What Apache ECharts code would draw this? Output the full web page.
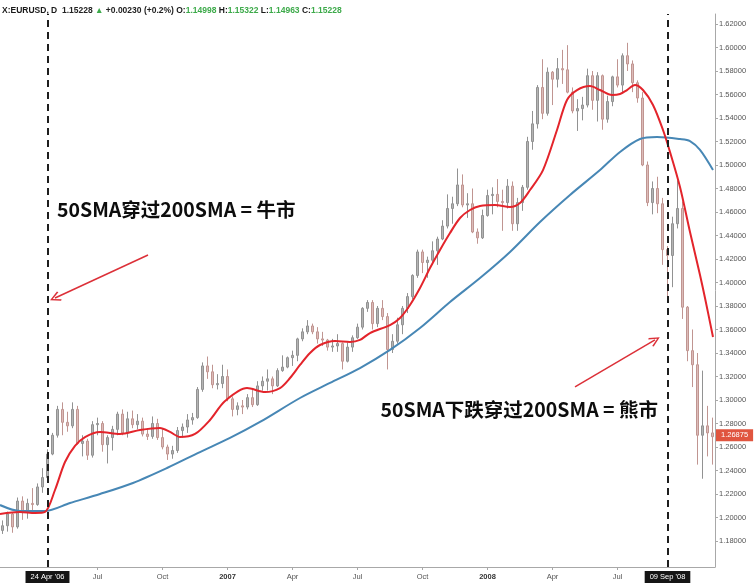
<!DOCTYPE html>
<html><head><meta charset="utf-8">
<script src="https://cdn.jsdelivr.net/npm/echarts@6/dist/echarts.min.js"></script>
<style>html,body{margin:0;padding:0;background:#fff}#c{width:754px;height:584px}</style>
</head><body><div id="c"></div><script>
// ---- data (weekly bars, EUR/USD) ----
const firstWeek = '2006-02-13';
const nWeeks = 144;
const opens = [1.1925,1.1890,1.1930,1.2030,1.1920,1.2140,1.2050,1.2120,1.2110,1.2260,
1.2340,1.2540,1.2700,1.2920,1.2810,1.2780,1.2920,1.2630,1.2650,1.2530,
1.2790,1.2800,1.2620,1.2680,1.2750,1.2880,1.2720,1.2840,1.2790,1.2820,
1.2710,1.2690,1.2800,1.2680,1.2600,1.2540,1.2570,1.2740,1.2770,1.2830,
1.2850,1.3090,1.3290,1.3240,1.3130,1.3140,1.3200,1.3010,1.2920,1.2950,
1.2940,1.3020,1.2960,1.3120,1.3160,1.3180,1.3120,1.3250,1.3280,1.3360,
1.3380,1.3520,1.3580,1.3630,1.3580,1.3520,1.3510,1.3450,1.3460,1.3480,
1.3330,1.3450,1.3530,1.3620,1.3780,1.3830,1.3650,1.3780,1.3710,1.3430,
1.3500,1.3640,1.3780,1.3880,1.4060,1.4260,1.4170,1.4190,1.4270,1.4370,
1.4480,1.4630,1.4670,1.4830,1.4660,1.4670,1.4430,1.4380,1.4570,1.4740,
1.4750,1.4690,1.4680,1.4820,1.4500,1.4680,1.4810,1.5200,1.5350,1.5660,
1.5440,1.5790,1.5730,1.5820,1.5810,1.5620,1.5460,1.5480,1.5510,1.5760,
1.5550,1.5760,1.5390,1.5540,1.5750,1.5680,1.5930,1.5860,1.5700,1.5570,
1.5000,1.4680,1.4800,1.4670,1.4280,1.4230,1.4500,1.4630,1.3790,1.3420,
1.3300,1.2700,1.2780,1.2720];
const highs = [1.1960,1.1975,1.2050,1.2040,1.2170,1.2180,1.2160,1.2250,1.2290,1.2420,
1.2580,1.2720,1.2950,1.2980,1.2900,1.2980,1.2950,1.2700,1.2670,1.2820,
1.2850,1.2820,1.2700,1.2780,1.2900,1.2920,1.2900,1.2910,1.2880,1.2850,
1.2760,1.2860,1.2840,1.2760,1.2620,1.2610,1.2770,1.2800,1.2880,1.2890,
1.3110,1.3320,1.3370,1.3300,1.3220,1.3300,1.3260,1.3030,1.2980,1.3000,
1.3050,1.3090,1.3160,1.3200,1.3260,1.3200,1.3270,1.3380,1.3370,1.3420,
1.3530,1.3610,1.3680,1.3650,1.3620,1.3580,1.3520,1.3520,1.3560,1.3490,
1.3490,1.3550,1.3650,1.3790,1.3850,1.3850,1.3800,1.3850,1.3740,1.3560,
1.3700,1.3800,1.3910,1.4070,1.4280,1.4280,1.4220,1.4350,1.4390,1.4530,
1.4750,1.4730,1.4970,1.4920,1.4760,1.4800,1.4460,1.4620,1.4790,1.4810,
1.4880,1.4790,1.4880,1.4860,1.4720,1.4830,1.5240,1.5460,1.5680,1.5900,
1.5830,1.5800,1.5910,1.5980,1.6020,1.5660,1.5560,1.5580,1.5820,1.5800,
1.5790,1.5770,1.5590,1.5760,1.5900,1.5950,1.6040,1.5890,1.5720,1.5620,
1.5030,1.4860,1.4900,1.4720,1.4310,1.4560,1.4870,1.4690,1.3800,1.3600,
1.3400,1.3250,1.2950,1.2850];
const lows = [1.1850,1.1860,1.1880,1.1870,1.1905,1.1980,1.1990,1.2030,1.2100,1.2210,
1.2330,1.2530,1.2680,1.2700,1.2730,1.2760,1.2620,1.2520,1.2490,1.2510,
1.2700,1.2560,1.2460,1.2570,1.2700,1.2700,1.2680,1.2760,1.2750,1.2690,
1.2660,1.2670,1.2660,1.2580,1.2490,1.2500,1.2550,1.2680,1.2720,1.2790,
1.2840,1.3070,1.3180,1.3100,1.3090,1.3100,1.2990,1.2860,1.2870,1.2880,
1.2920,1.2940,1.2950,1.3080,1.3080,1.3050,1.3110,1.3240,1.3270,1.3290,
1.3330,1.3500,1.3560,1.3560,1.3480,1.3460,1.3420,1.3410,1.3410,1.3260,
1.3320,1.3410,1.3520,1.3600,1.3750,1.3600,1.3620,1.3680,1.3260,1.3400,
1.3480,1.3560,1.3740,1.3860,1.4040,1.4080,1.4040,1.4150,1.4150,1.4360,
1.4460,1.4500,1.4650,1.4640,1.4550,1.4420,1.4330,1.4370,1.4560,1.4580,
1.4640,1.4440,1.4630,1.4440,1.4440,1.4610,1.4790,1.5130,1.5310,1.5390,
1.5420,1.5510,1.5660,1.5690,1.5610,1.5440,1.5290,1.5380,1.5490,1.5470,
1.5370,1.5300,1.5360,1.5500,1.5660,1.5620,1.5800,1.5620,1.5530,1.4990,
1.4650,1.4580,1.4590,1.4150,1.3880,1.3960,1.4460,1.3690,1.3330,1.3110,
1.2450,1.2330,1.2520,1.2450];
const closes = [1.1890,1.1930,1.2030,1.1920,1.2140,1.2050,1.2120,1.2110,1.2260,1.2340,
1.2540,1.2700,1.2920,1.2810,1.2780,1.2920,1.2630,1.2650,1.2530,1.2790,
1.2800,1.2620,1.2680,1.2750,1.2880,1.2720,1.2840,1.2790,1.2820,1.2710,
1.2690,1.2800,1.2680,1.2600,1.2540,1.2570,1.2740,1.2770,1.2830,1.2850,
1.3090,1.3290,1.3240,1.3130,1.3140,1.3200,1.3010,1.2920,1.2950,1.2940,
1.3020,1.2960,1.3120,1.3160,1.3180,1.3120,1.3250,1.3280,1.3360,1.3380,
1.3520,1.3580,1.3630,1.3580,1.3520,1.3510,1.3450,1.3460,1.3480,1.3330,
1.3450,1.3530,1.3620,1.3780,1.3830,1.3650,1.3780,1.3710,1.3430,1.3500,
1.3640,1.3780,1.3880,1.4060,1.4260,1.4170,1.4190,1.4270,1.4370,1.4480,
1.4630,1.4670,1.4830,1.4660,1.4670,1.4430,1.4380,1.4570,1.4740,1.4750,
1.4690,1.4680,1.4820,1.4500,1.4680,1.4810,1.5200,1.5350,1.5660,1.5440,
1.5790,1.5730,1.5820,1.5810,1.5620,1.5460,1.5480,1.5510,1.5760,1.5550,
1.5760,1.5390,1.5540,1.5750,1.5680,1.5930,1.5860,1.5700,1.5570,1.5000,
1.4680,1.4800,1.4670,1.4280,1.4230,1.4500,1.4630,1.3790,1.3420,1.3300,
1.2700,1.2780,1.2720,1.26875];
// moving averages: [week index, price]
const sma50 = [[0.5,1.2030],[4.5,1.2047],[7.5,1.2038],[9.5,1.2047],[11.5,1.2234],[13.5,1.2472],[15.5,1.2609],[17.5,1.2685],[20.5,1.2728],[24.5,1.2711],[28.5,1.2745],[32.5,1.2762],[34.5,1.2728],[36.5,1.2685],[39.5,1.2711],[42.5,1.2830],[45.5,1.2991],[49.9,1.3102],[53.5,1.3068],[56.5,1.3102],[58.5,1.3187],[60.5,1.3298],[62.5,1.3400],[64.5,1.3468],[67.5,1.3502],[70.5,1.3494],[72.5,1.3511],[74.5,1.3570],[78.5,1.3638],[80.5,1.3698],[82.5,1.3809],[84.5,1.3953],[86.5,1.4123],[88.5,1.4277],[90.5,1.4421],[92.5,1.4549],[94.5,1.4617],[96.5,1.4651],[99.5,1.4660],[102.5,1.4643],[104.5,1.4677],[106.5,1.4787],[109.1,1.4957],[111.9,1.5298],[113.9,1.5553],[115.9,1.5638],[118.5,1.5672],[120.5,1.5638],[122.9,1.5596],[124.5,1.5604],[125.9,1.5638],[127.5,1.5681],[129.1,1.5638],[131.1,1.5511],[133.1,1.5298],[134.5,1.5111],[136.5,1.4813],[138.5,1.4430],[140.5,1.4064],[141.5,1.3868],[143.1,1.3536]];
const sma200 = [[0.5,1.2106],[4.5,1.2055],[9.5,1.2055],[14.5,1.2123],[20.5,1.2200],[27.1,1.2294],[33.9,1.2421],[40.5,1.2557],[46.5,1.2677],[52.5,1.2813],[60.5,1.3017],[66.5,1.3145],[72.5,1.3272],[78.5,1.3426],[84.5,1.3613],[90.5,1.3834],[96.5,1.4038],[102.5,1.4260],[108.5,1.4515],[114.5,1.4745],[120.5,1.4957],[124.5,1.5111],[128.5,1.5221],[131.9,1.5238],[136.5,1.5221],[138.5,1.5204],[140.5,1.5128],[143.1,1.4957]];
const yTicks = [1.18,1.20,1.22,1.24,1.26,1.28,1.30,1.32,1.34,1.36,1.38,1.40,1.42,1.44,1.46,1.48,1.50,1.52,1.54,1.56,1.58,1.60,1.62];
const monthNames = ['Jan','Feb','Mar','Apr','May','Jun','Jul','Aug','Sep','Oct','Nov','Dec'];
const lastPrice = 1.26875;
const crossovers = [{week:'2006-04-24', text:"24 Apr '06"}, {week:'2008-09-08', text:"09 Sep '08"}];
const noteTexts = ['50SMA穿过200SMA = 牛市', '50SMA下跌穿过200SMA = 熊市'];
const noteAnchors = [[11.8,1.4617],[76.5,1.2915]];
const arrowFrom = [[30.1,1.4234],[115.5,1.3111]];
const arrowTo = [[11.5,1.3868],[131.5,1.3511]];

// ---- build ----
const DAY = 864e5;
const categories = [];
const t0 = Date.parse(firstWeek + 'T00:00:00Z');
for (let i = 0; i < nWeeks; i++) categories.push(new Date(t0 + i * 7 * DAY).toISOString().slice(0, 10));
const friday = i => new Date(Date.parse(categories[i] + 'T00:00:00Z') + 4 * DAY);
const crossIdx = crossovers.map(c => categories.indexOf(c.week));
function isQuarterStart(i) {
  if (i === 0) return false;
  const m = friday(i).getUTCMonth();
  return m !== friday(i - 1).getUTCMonth() && m % 3 === 0 && crossIdx.every(c => Math.abs(c - i) > 4);
}
const candles = categories.map((c, i) => i < closes.length ? [opens[i], closes[i], lows[i], highs[i]] : '-');
const arrowHead = 'path://M5,0 L10,8.5 L8.8,9.4 L5,2.6 L1.2,9.4 L0,8.5 Z';
const FONT = '"Liberation Sans", Arial, sans-serif';

const chart = echarts.init(document.getElementById('c'), null, {renderer: 'canvas'});
chart.setOption({
  animation: false,
  backgroundColor: '#fff',
  title: {
    left: -3, top: 1,
    text: '{b|X:EURUSD, D}  {n|1.15228} {g|▲} {n|+0.00230 (+0.2%)} {b|O:}{g|1.14998} {b|H:}{g|1.15322} {b|L:}{g|1.14963} {b|C:}{g|1.15228}',
    textStyle: {
      fontSize: 8.5, fontFamily: FONT,
      rich: {
        b: {fontSize: 8.5, fontFamily: FONT, color: '#1a1a1a', fontWeight: 'bold'},
        n: {fontSize: 8.5, fontFamily: FONT, color: '#222'},
        g: {fontSize: 8.5, fontFamily: FONT, color: '#3daa4a'}
      }
    }
  },
  grid: {left: -5, right: 39, top: 14, bottom: 17, containLabel: false, outerBoundsMode: 'none'},
  xAxis: [{
    type: 'category', data: categories, boundaryGap: true,
    axisLine: {onZero: false, lineStyle: {color: '#a8a8a8', width: 1}},
    axisTick: {show: true, alignWithLabel: true, length: 3, interval: (i) => isQuarterStart(i), lineStyle: {color: '#a8a8a8'}},
    axisLabel: {
      interval: (i) => isQuarterStart(i), margin: 6, fontSize: 7.5, color: '#555', fontFamily: FONT,
      formatter: (v) => {
        const d = new Date(Date.parse(v + 'T00:00:00Z') + 4 * DAY);
        const m = d.getUTCMonth();
        return m === 0 ? '{y|' + d.getUTCFullYear() + '}' : monthNames[m];
      },
      rich: {y: {fontSize: 7.5, fontWeight: 'bold', color: '#333', fontFamily: FONT}}
    },
    splitLine: {show: false}
  }, {
    type: 'value', min: -0.5, max: nWeeks - 0.5, show: false,
    axisLine: {onZero: false}
  }],
  yAxis: {
    type: 'value', position: 'right', min: 1.15787, max: 1.62851, scale: true,
    axisLine: {show: true, onZero: false, lineStyle: {color: '#a8a8a8'}},
    axisTick: {show: true, length: 3, customValues: yTicks, lineStyle: {color: '#a8a8a8'}},
    axisLabel: {customValues: yTicks, formatter: v => v.toFixed(5), color: '#555', fontSize: 7.5, margin: 4, fontFamily: FONT},
    splitLine: {show: false}
  },
  series: [{
    type: 'candlestick', name: 'EURUSD', xAxisIndex: 0, yAxisIndex: 0,
    data: candles, barWidth: 2,
    itemStyle: {color: '#b4b4b4', color0: '#dcbcb9', borderColor: '#929292', borderColor0: '#c09591', borderWidth: 1},
    markLine: {
      silent: true, symbol: ['none', 'none'], animation: false,
      data: crossovers.map(c => ({
        xAxis: c.week,
        lineStyle: {color: '#1e1e1e', width: 2, type: [7, 5]},
        label: {show: true, position: 'start', formatter: c.text, distance: 4, color: '#fff', backgroundColor: '#151515', padding: [2, 5, 2, 5], fontSize: 7.5, fontFamily: FONT}
      })).concat([{
        yAxis: lastPrice,
        lineStyle: {color: 'rgba(0,0,0,0)', width: 1, opacity: 1},
        label: {show: true, position: 'end', formatter: lastPrice.toFixed(5), distance: 1, color: '#fff', opacity: 1, backgroundColor: '#e0553f', padding: [2, 5, 2, 5], fontSize: 7.5, fontFamily: FONT}
      }])
    }
  }, {
    type: 'line', name: 'SMA200', xAxisIndex: 1, yAxisIndex: 0,
    data: sma200, smooth: 0.3, showSymbol: false,
    lineStyle: {color: '#4787b5', width: 2}
  }, {
    type: 'line', name: 'SMA50', xAxisIndex: 1, yAxisIndex: 0,
    data: sma50, smooth: 0.3, showSymbol: false,
    lineStyle: {color: '#e3242b', width: 2},
    markLine: {
      silent: true, animation: false,
      symbol: ['none', arrowHead], symbolSize: [10, 11],
      lineStyle: {color: '#dc3038', width: 1.5, type: 'solid'},
      label: {show: false},
      data: arrowFrom.map((f, i) => [{coord: f}, {coord: arrowTo[i]}])
    },
    markPoint: {
      silent: true, animation: false,
      symbol: 'circle', symbolSize: 1, itemStyle: {color: 'rgba(0,0,0,0)'},
      label: {show: true, position: 'right', distance: 0, color: '#0d0d0d', fontSize: 19.5, fontWeight: 'bold', fontFamily: '"Noto Sans CJK SC", sans-serif'},
      data: noteTexts.map((t, i) => ({coord: noteAnchors[i], value: 0, label: {formatter: t}}))
    }
  }]
});
</script></body></html>
